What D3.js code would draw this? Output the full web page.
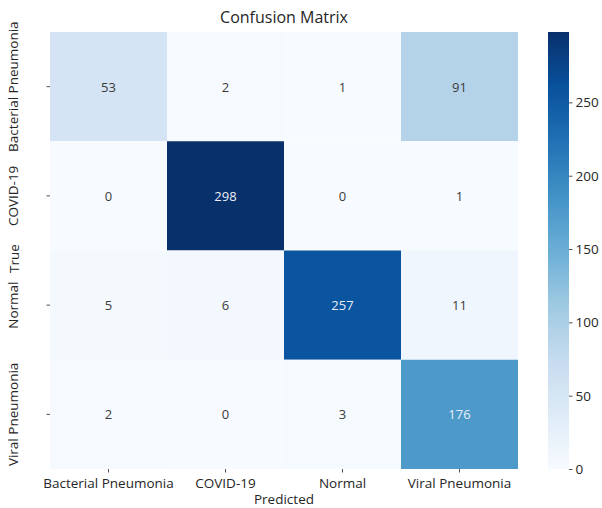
<!DOCTYPE html>
<html>
<head>
<meta charset="utf-8">
<script src="https://cdn.jsdelivr.net/npm/d3@7"></script>
<style>
  html, body { margin: 0; padding: 0; background: #ffffff; }
  svg { display: block; }
  text { font-family: "Open Sans", "Noto Sans", sans-serif; fill: #262626; }
</style>
</head>
<body>
<svg id="chart" width="602" height="508"></svg>
<script>
// Class labels (rows = true class, columns = predicted class)
const classes = ["Bacterial Pneumonia", "COVID-19", "Normal", "Viral Pneumonia"];

// Confusion matrix counts, one array per true class
const rowBacterial = [53, 2, 1, 91];
const rowCovid = [0, 298, 0, 1];
const rowNormal = [5, 6, 257, 11];
const rowViral = [2, 0, 3, 176];
const matrix = [rowBacterial, rowCovid, rowNormal, rowViral];

// Colour bar tick values
const colorbarTicks = [0, 50, 100, 150, 200, 250];

const svg = d3.select("#chart");

const plot = { left: 50, top: 32, right: 518, bottom: 469 };
const cbar = { left: 548, right: 569 };
const labelSize = "13.5px";

const x = d3.scaleBand().domain(classes).range([plot.left, plot.right]);
const y = d3.scaleBand().domain(classes).range([plot.top, plot.bottom]);

// Blues colour map as a piecewise-linear ramp over the ColorBrewer stops
const bluesStops = ["#f7fbff", "#deebf7", "#c6dbef", "#9ecae1", "#6baed6",
                    "#4292c6", "#2171b5", "#08519c", "#08306b"];
const vmin = 0;
const vmax = d3.max(matrix.flat());
const color = d3.scaleLinear()
  .domain(bluesStops.map((_, i) => vmin + (vmax - vmin) * i / (bluesStops.length - 1)))
  .range(bluesStops)
  .interpolate(d3.interpolateRgb);

const cells = [];
matrix.forEach((row, i) => row.forEach((v, j) => cells.push({ r: classes[i], c: classes[j], v })));

// Heatmap cells
svg.append("g").selectAll("rect").data(cells).join("rect")
  .attr("x", d => x(d.c))
  .attr("y", d => y(d.r))
  .attr("width", x.bandwidth())
  .attr("height", y.bandwidth())
  .attr("fill", d => color(d.v));

// Annotations: light text on dark cells, dark text on light cells
function luminance(c) {
  const rgb = d3.rgb(c);
  const lin = [rgb.r, rgb.g, rgb.b].map(u => {
    u /= 255;
    return u <= 0.03928 ? u / 12.92 : Math.pow((u + 0.055) / 1.055, 2.4);
  });
  return 0.2126 * lin[0] + 0.7152 * lin[1] + 0.0722 * lin[2];
}
svg.append("g").selectAll("text").data(cells).join("text")
  .attr("x", d => x(d.c) + x.bandwidth() / 2)
  .attr("y", d => y(d.r) + y.bandwidth() / 2)
  .attr("text-anchor", "middle")
  .attr("dominant-baseline", "central")
  .style("font-size", "13px")
  .style("fill", d => luminance(color(d.v)) > 0.408 ? "#3a3a3a" : "#e8eef6")
  .text(d => d.v);

// Axes
const xAxis = svg.append("g")
  .attr("transform", `translate(0,${plot.bottom})`)
  .call(d3.axisBottom(x).tickSize(3.5).tickPadding(3));
const yAxis = svg.append("g")
  .attr("transform", `translate(${plot.left},0)`)
  .call(d3.axisLeft(y).tickSize(3.5).tickPadding(4));
[xAxis, yAxis].forEach(g => {
  g.select(".domain").remove();
  g.selectAll(".tick line").attr("stroke", "#262626").attr("stroke-width", 0.8);
  g.selectAll(".tick text").style("font-size", labelSize).style("font-family", null).attr("fill", null);
});
xAxis.selectAll(".tick text").attr("dy", "0.9em");
yAxis.selectAll(".tick text")
  .attr("transform", "rotate(-90)")
  .attr("x", 0)
  .attr("y", -37)
  .attr("dy", "0.35em")
  .attr("text-anchor", "middle");

// Axis titles and chart title
svg.append("text")
  .attr("x", (plot.left + plot.right) / 2)
  .attr("y", 504)
  .attr("text-anchor", "middle")
  .style("font-size", labelSize)
  .text("Predicted");
svg.append("text")
  .attr("transform", `translate(14,${(plot.top + plot.bottom) / 2 + 8}) rotate(-90)`)
  .attr("text-anchor", "middle")
  .attr("dy", "0.35em")
  .style("font-size", labelSize)
  .text("True");
svg.append("text")
  .attr("x", (plot.left + plot.right) / 2)
  .attr("y", 23)
  .attr("text-anchor", "middle")
  .style("font-size", "16px")
  .text("Confusion Matrix");

// Colour bar
const cScale = d3.scaleLinear().domain([vmin, vmax]).range([plot.bottom, plot.top]);
const defs = svg.append("defs");
const grad = defs.append("linearGradient")
  .attr("id", "cbar-grad")
  .attr("x1", 0).attr("y1", 1).attr("x2", 0).attr("y2", 0);
d3.range(0, 1.0001, 0.02).forEach(t => {
  grad.append("stop")
    .attr("offset", t)
    .attr("stop-color", color(vmin + t * (vmax - vmin)));
});
svg.append("rect")
  .attr("x", cbar.left)
  .attr("y", plot.top)
  .attr("width", cbar.right - cbar.left)
  .attr("height", plot.bottom - plot.top)
  .attr("fill", "url(#cbar-grad)");
const cAxis = svg.append("g")
  .attr("transform", `translate(${cbar.right},0)`)
  .call(d3.axisRight(cScale).tickValues(colorbarTicks).tickSize(3.5).tickPadding(3));
cAxis.select(".domain").remove();
cAxis.selectAll(".tick line").attr("stroke", "#262626").attr("stroke-width", 0.8);
cAxis.selectAll(".tick text").style("font-size", labelSize).style("font-family", null).attr("fill", null);
</script>
</body>
</html>
